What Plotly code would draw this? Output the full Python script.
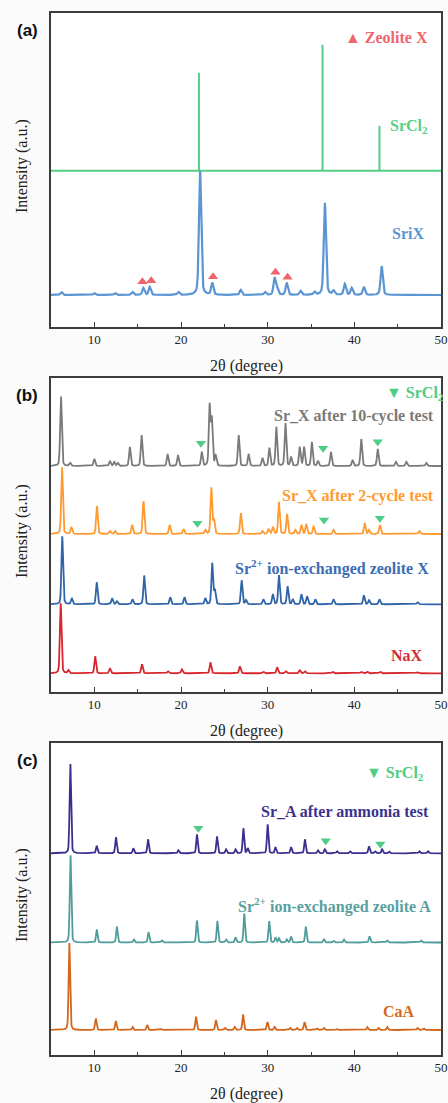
import numpy as np
import plotly.graph_objects as go

# ---------------- data ----------------
two_theta = np.round(np.arange(5.0, 50.0001, 0.02), 3)

# Panel (a)
srcl2_ref_pos = [22.07, 36.33, 42.9]
srcl2_ref_int = [98, 126, 45]
srix_pos = [6.2, 10.0, 12.4, 14.4, 15.65, 16.4, 19.7, 22.2, 23.6, 26.9, 29.7, 30.8, 31.1, 32.2,
            33.8, 35.4, 36.6, 37.6, 38.9, 39.7, 41.1, 43.15]
srix_int = [3, 2, 2, 3, 7, 8, 3, 124, 12, 5, 3, 17, 6, 12, 4, 3, 92, 4, 11, 7, 8, 29]
zeoX_mark_pos = [15.55, 16.56, 23.7, 30.9, 32.3]
zeoX_mark_h = [13.3, 14.3, 18.3, 22.7, 17.7]

# Panel (b)
srx10_pos = [6.15, 7.2, 10.0, 11.8, 12.3, 12.7, 14.1, 15.45, 18.45, 19.65, 22.4, 23.3, 23.55, 24.0,
             26.65, 27.8, 29.4, 30.2, 31.0, 32.05, 32.7, 33.7, 34.2, 35.1, 35.8, 37.3, 39.8,
             40.8, 42.7, 44.8, 46.0, 48.3]
srx10_int = [70, 3, 7, 5, 4, 3, 19, 31, 12, 11, 14, 60, 46, 10, 31, 12, 8, 18, 39, 43, 9, 19, 19, 24,
             5, 14, 6, 27, 17, 4, 4, 3]
srx2_pos = [6.27, 7.35, 10.3, 11.8, 12.4, 14.36, 15.67, 18.7, 20.3, 22.8, 23.5, 23.8, 26.9, 29.4,
            30.1, 30.6, 31.3, 32.24, 33.2, 33.9, 34.45, 35.3, 37.6, 41.2, 41.7, 42.96, 47.5]
srx2_int = [67, 7, 28, 3, 3, 9, 33, 9, 5, 4, 46, 14, 21, 3, 5, 7, 32, 20, 4, 9, 10, 8, 4, 11, 4, 9, 3]
srx_ie_pos = [6.3, 7.4, 10.28, 12.05, 12.6, 14.4, 15.75, 18.76, 20.4, 22.8, 23.6, 23.9, 27.0, 27.5,
              29.5, 30.6, 31.3, 32.3, 32.9, 33.9, 34.55, 35.5, 37.6, 41.1, 41.7, 42.9, 47.3]
srx_ie_int = [68, 6, 22, 6, 3, 5, 29, 7, 7, 6, 41, 14, 24, 4, 5, 10, 29, 18, 5, 10, 8, 5, 5, 9, 4, 5, 2]
nax_pos = [6.12, 7.0, 10.1, 11.8, 15.5, 18.5, 20.1, 23.4, 26.8, 29.5, 31.1, 32.1, 33.7, 34.3, 37.5,
           40.8, 41.5, 43.0, 47.3]
nax_int = [70, 3, 17, 5, 9, 2, 4, 11, 7, 1.5, 6, 2, 3, 2, 1.5, 1.5, 1.5, 1.5, 1]
srcl2_b_mark_pos_10 = [22.3, 36.4, 42.7]
srcl2_b_mark_h_10 = [22.7, 17.7, 24.3]
srcl2_b_mark_pos_2 = [21.9, 36.5, 42.95]
srcl2_b_mark_h_2 = [10.7, 14.0, 15.7]

# Panel (c)
sra_nh3_pos = [7.23, 10.28, 12.5, 14.5, 16.2, 19.7, 21.84, 24.15, 25.2, 26.3, 27.2, 27.7, 30.0, 30.9,
               32.7, 34.3, 35.8, 36.6, 38.0, 39.5, 41.7, 42.4, 43.2, 44.0, 47.5, 48.5]
sra_nh3_int = [90, 7.5, 16, 5, 14, 3, 19, 17, 4, 4, 25, 5, 29, 6, 6, 14, 3, 4, 2, 2, 7, 2, 4, 2, 2, 2]
sra_ie_pos = [7.25, 10.28, 12.6, 14.56, 16.25, 17.8, 21.84, 24.2, 25.2, 26.3, 27.3, 30.17, 30.9,
              31.3, 32.2, 32.7, 34.4, 36.5, 37.6, 38.8, 41.76, 43.8, 47.7]
sra_ie_int = [88, 13, 16, 3, 10.6, 2, 22, 21.6, 3, 5, 29, 21.6, 5, 4, 3, 6, 16, 3, 2, 3, 6, 2, 2]
caa_pos = [7.12, 10.17, 12.48, 14.4, 16.1, 17.7, 21.73, 24.04, 25.1, 26.2, 27.16, 29.97, 30.8, 32.6,
           33.4, 34.25, 35.7, 36.5, 38.0, 41.5, 42.8, 43.8, 47.3, 48.0]
caa_int = [87, 11.5, 9, 3, 5, 1, 13.5, 10, 2, 3, 15.5, 8, 3, 2, 2, 8, 1.5, 2, 1, 3, 2, 3, 2, 1.5]
srcl2_c_mark_pos = [22.0, 36.7, 43.0]
srcl2_c_mark_h = [25.0, 12.6, 9.3]

# stacking offsets (pixel-like units above each panel's bottom)
offsets_a = {"srcl2": 156.3, "srix": 32.0}
offsets_b = {"srx10": 226.0, "srx2": 158.0, "srx_ie": 87.7, "nax": 18.7}
offsets_c = {"nh3": 201.7, "ie": 112.5, "caa": 25.0}

# ---------------- helpers ----------------
def pattern(pos, ints, fwhm=0.2, eta=0.3):
    y = np.zeros_like(two_theta)
    for p, h in zip(pos, ints):
        d2 = 4.0 * (two_theta - p) ** 2 / fwhm ** 2
        y += h * ((1 - eta) * np.exp(-np.log(2) * d2) + eta / (1.0 + d2))
    return y

def sticks(pos, ints, base):
    xs, ys = [5.0], [base]
    for p, h in zip(pos, ints):
        xs += [p, p, p]
        ys += [base, base + h, base]
    xs.append(50.0)
    ys.append(base)
    return xs, ys

W, H = 448, 1103
X0, X1 = 51, 441
panels = [(13, 327), (378, 692), (743, 1055)]

def py(pix):
    return 1 - pix / H

GREEN_A = "#55cf86"
GREEN_T = "#4fcc86"
fig = go.Figure()

def add_line(x, y, color, width, ax):
    fig.add_trace(go.Scatter(x=x, y=y, mode="lines", line=dict(color=color, width=width),
                             xaxis="x" + ax, yaxis="y" + ax, showlegend=False, hoverinfo="skip"))

def add_marks(xs, ys, symbol, color, ax, size=9):
    fig.add_trace(go.Scatter(x=xs, y=ys, mode="markers",
                             marker=dict(symbol=symbol, color=color, size=size, line=dict(width=0)),
                             xaxis="x" + ax, yaxis="y" + ax, showlegend=False, hoverinfo="skip"))

# Panel a
sx, sy = sticks(srcl2_ref_pos, srcl2_ref_int, offsets_a["srcl2"])
add_line(sx, sy, GREEN_A, 2.0, "")
add_line(two_theta, offsets_a["srix"] + pattern(srix_pos, srix_int, fwhm=0.3, eta=0.4), "#5b95d3", 2.2, "")
add_marks(zeoX_mark_pos, [offsets_a["srix"] + h for h in zeoX_mark_h], "triangle-up", "#f0646d", "")

# Panel b
add_line(two_theta, offsets_b["srx10"] + pattern(srx10_pos, srx10_int, fwhm=0.22), "#7a7a7a", 1.8, "2")
add_line(two_theta, offsets_b["srx2"] + pattern(srx2_pos, srx2_int, fwhm=0.22), "#ff9a30", 1.8, "2")
add_line(two_theta, offsets_b["srx_ie"] + pattern(srx_ie_pos, srx_ie_int, fwhm=0.22), "#2f64a8", 1.8, "2")
add_line(two_theta, offsets_b["nax"] + pattern(nax_pos, nax_int, fwhm=0.22), "#d8262e", 1.8, "2")
add_marks(srcl2_b_mark_pos_10, [offsets_b["srx10"] + h for h in srcl2_b_mark_h_10], "triangle-down", GREEN_T, "2")
add_marks(srcl2_b_mark_pos_2, [offsets_b["srx2"] + h for h in srcl2_b_mark_h_2], "triangle-down", GREEN_T, "2")

# Panel c
add_line(two_theta, offsets_c["nh3"] + pattern(sra_nh3_pos, sra_nh3_int, fwhm=0.2), "#3a2f8e", 1.8, "3")
add_line(two_theta, offsets_c["ie"] + pattern(sra_ie_pos, sra_ie_int, fwhm=0.2), "#4f9c9d", 1.8, "3")
add_line(two_theta, offsets_c["caa"] + pattern(caa_pos, caa_int, fwhm=0.2), "#d4661b", 1.8, "3")
add_marks(srcl2_c_mark_pos, [offsets_c["nh3"] + h for h in srcl2_c_mark_h], "triangle-down", GREEN_T, "3")

# ---------------- axes ----------------
SERIF = "Liberation Serif, Times New Roman, serif"
layout = dict(width=W, height=H, margin=dict(l=0, r=0, t=0, b=0, autoexpand=False),
              paper_bgcolor="#fbfbfb", plot_bgcolor="#ffffff", showlegend=False)
for i, (top, bot) in enumerate(panels):
    s = "" if i == 0 else str(i + 1)
    layout["xaxis" + s] = dict(domain=[X0 / W, X1 / W], range=[5, 50], anchor="y" + s,
                               showline=True, mirror=True, linecolor="#3c3c3c", linewidth=1.5,
                               ticks="inside", ticklen=5, tickwidth=1.2, tickcolor="#3c3c3c",
                               tickvals=[10, 20, 30, 40, 50], showgrid=False, zeroline=False,
                               automargin=False,
                               minor=dict(tickvals=[15, 25, 35, 45], ticks="inside", ticklen=3,
                                          tickwidth=1.2, tickcolor="#3c3c3c"),
                               tickfont=dict(family=SERIF, size=13, color="#222"))
    layout["yaxis" + s] = dict(domain=[py(bot), py(top)], range=[0, bot - top], anchor="x" + s,
                               showline=True, mirror=True, linecolor="#3c3c3c", linewidth=1.5,
                               automargin=False,
                               ticks="", showticklabels=False, showgrid=False, zeroline=False)
fig.update_layout(**layout)

ann = []
def label(text, xr, yc, color, size=16, bold=True, family=SERIF, anchor="right"):
    t = "<b>" + text + "</b>" if bold else text
    ann.append(dict(text=t, x=xr / W, y=py(yc), xref="paper", yref="paper", xanchor=anchor,
                    yanchor="middle", showarrow=False, font=dict(family=family, size=size, color=color)))

for i, (top, bot) in enumerate(panels):
    label(["(a)", "(b)", "(c)"][i], 27, top + 17, "#111", size=17, family="Liberation Sans, Arial",
          anchor="center")
    label("2θ (degree)", (X0 + X1) / 2, bot + 39, "#222", size=16, bold=False, anchor="center")
    ann.append(dict(text="Intensity (a.u.)", x=22 / W, y=py((top + bot) / 2 - 4), xref="paper", yref="paper",
                    xanchor="center", yanchor="middle", textangle=-90, showarrow=False,
                    font=dict(family=SERIF, size=16, color="#222")))

label("▲ Zeolite X", 430, 38, "#f0646d")
label("SrCl<sub>2</sub>", 430, 126, GREEN_A)
label("SriX", 426, 234, "#5b95d3")

label("▼ SrCl<sub>2</sub>", 446, 393, GREEN_T)
label("Sr_X after 10-cycle test", 436, 416, "#7a7a7a")
label("Sr_X after 2-cycle test", 436, 496, "#ff9a30")
label("Sr<sup>2+</sup> ion-exchanged zeolite X", 431, 567, "#3a6db3")
label("NaX", 425, 655, "#d42c35")

label("▼ SrCl<sub>2</sub>", 426, 773, GREEN_T)
label("Sr_A after ammonia test", 431, 811, "#3b3290")
label("Sr<sup>2+</sup> ion-exchanged zeolite A", 433, 905, "#5a9fa0")
label("CaA", 417, 1011, "#d46a20")

fig.update_layout(annotations=ann)
fig.write_html("out.html")
